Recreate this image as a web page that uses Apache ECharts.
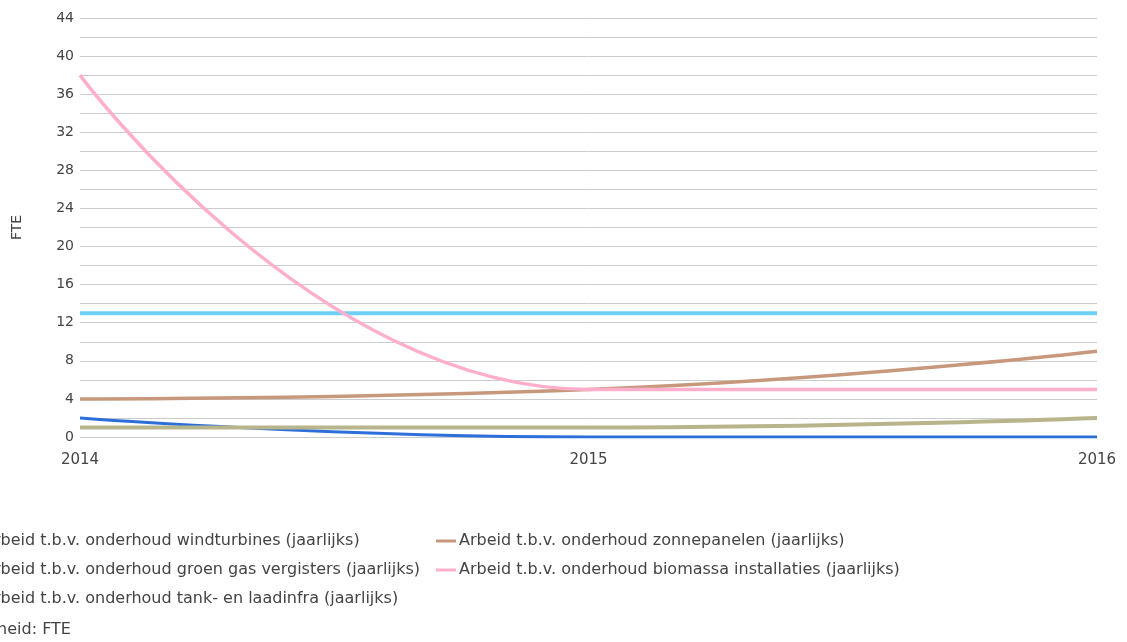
<!DOCTYPE html>
<html>
<head>
<meta charset="utf-8">
<script src="https://cdn.jsdelivr.net/npm/echarts@6/dist/echarts.min.js"></script>
<style>
  html, body { margin: 0; padding: 0; background: #ffffff; }
  #chart { width: 1127px; height: 642px; }
</style>
</head>
<body>
<div id="chart"></div>
<script>
// Years on the horizontal axis
const years = [2014, 2015, 2016];

// Yearly maintenance labour (FTE) per installation type
const windturbines = [13, 13, 13];
const groenGas = [2, 0, 0];
const tankLaadinfra = [1, 1, 2];
const zonnepanelen = [4, 5, 9];
const biomassa = [38, 5, 5];

const seriesNames = [
  'Arbeid t.b.v. onderhoud windturbines (jaarlijks)',
  'Arbeid t.b.v. onderhoud groen gas vergisters (jaarlijks)',
  'Arbeid t.b.v. onderhoud tank- en laadinfra (jaarlijks)',
  'Arbeid t.b.v. onderhoud zonnepanelen (jaarlijks)',
  'Arbeid t.b.v. onderhoud biomassa installaties (jaarlijks)'
];
const seriesValues = [windturbines, groenGas, tankLaadinfra, zonnepanelen, biomassa];
const seriesColors = ['#6fcff7', '#2c6fdb', '#b8b58c', '#c8987c', '#ffafcc'];
const seriesWidths = [4, 3, 4, 3.5, 3.5];

const textColor = '#444444';
const fontFamily = 'DejaVu Sans, Verdana, sans-serif';

const chart = echarts.init(document.getElementById('chart'));

const series = seriesNames.map((name, i) => ({
  name: name,
  type: 'line',
  smooth: 0.5,
  showSymbol: false,
  symbol: 'none',
  data: years.map((y, j) => [y, seriesValues[i][j]]),
  lineStyle: { color: seriesColors[i], width: seriesWidths[i] },
  itemStyle: { color: seriesColors[i] },
  z: 2 + i
}));

const legendBase = {
  orient: 'vertical',
  icon: 'rect',
  itemWidth: 20,
  itemHeight: 3,
  itemGap: 13,
  textStyle: { color: textColor, fontSize: 16, fontFamily: fontFamily, padding: [0, 0, 0, -2] },
  selectedMode: false
};

chart.setOption({
  animation: false,
  backgroundColor: '#ffffff',
  grid: { left: 80, right: 30, top: 18, bottom: 205, containLabel: false },
  xAxis: {
    type: 'value',
    min: 2014,
    max: 2016,
    interval: 1,
    axisLine: { show: false },
    axisTick: { show: false },
    splitLine: { show: false },
    axisLabel: {
      color: textColor,
      fontSize: 15,
      fontFamily: fontFamily,
      margin: 16,
      formatter: v => String(v)
    }
  },
  yAxis: {
    type: 'value',
    min: 0,
    max: 44,
    interval: 4,
    name: 'FTE',
    nameLocation: 'middle',
    nameRotate: 90,
    nameGap: 56,
    nameTextStyle: { color: textColor, fontSize: 14, fontFamily: fontFamily },
    axisLine: { show: false },
    axisTick: { show: false },
    axisLabel: { color: textColor, fontSize: 14, fontFamily: fontFamily, margin: 6 },
    splitLine: { show: true, lineStyle: { color: '#cccccc', width: 1 } },
    minorTick: { show: false, splitNumber: 2 },
    minorSplitLine: { show: true, lineStyle: { color: '#cccccc', width: 1 } }
  },
  legend: [
    Object.assign({}, legendBase, {
      left: -45,
      top: 528,
      data: seriesNames.slice(0, 3)
    }),
    Object.assign({}, legendBase, {
      left: 431,
      top: 528,
      data: seriesNames.slice(3)
    })
  ],
  graphic: [{
    type: 'text',
    left: -33,
    top: 622,
    style: { text: 'Eenheid: FTE', fill: textColor, font: '16px ' + fontFamily }
  }],
  series: series
});
</script>
</body>
</html>
